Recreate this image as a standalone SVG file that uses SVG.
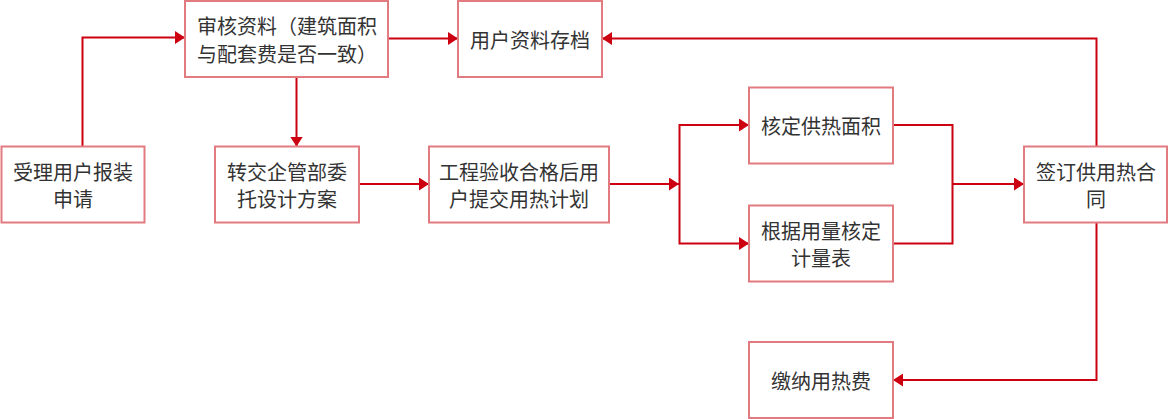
<svg xmlns="http://www.w3.org/2000/svg" width="1169" height="419" viewBox="0 0 1169 419">
<style>
.box{fill:#ffffff;stroke:#e27b80;stroke-width:2}
.t{font-family:"Noto Sans CJK SC","Noto Sans",sans-serif;font-size:20px;fill:#333333;text-anchor:middle;dominant-baseline:central}
.c{fill:none;stroke:#cc0010;stroke-width:2}
</style>
<defs>
<marker id="ah" viewBox="0 0 10 13" refX="10" refY="6.5" markerWidth="10" markerHeight="13" markerUnits="userSpaceOnUse" orient="auto">
<path d="M0,0 L10,6.5 L0,13 Z" fill="#cc0010"/>
</marker>
</defs>
<g id="connectors">
<path class="c" d="M82.5,146.5 V37.5 H185" marker-end="url(#ah)"/>
<path class="c" d="M296.5,77 V146.5" marker-end="url(#ah)"/>
<path class="c" d="M388,38.5 H458" marker-end="url(#ah)"/>
<path class="c" d="M359,184 H429" marker-end="url(#ah)"/>
<path class="c" d="M609,184 H679" marker-end="url(#ah)"/>
<path class="c" d="M679.5,184 V125 H749" marker-end="url(#ah)"/>
<path class="c" d="M679.5,184 V243.5 H749" marker-end="url(#ah)"/>
<path class="c" d="M893,125 H952.5 V243.5 H893"/>
<path class="c" d="M952.5,184 H1024" marker-end="url(#ah)"/>
<path class="c" d="M1096.5,146.5 V38.5 H602" marker-end="url(#ah)"/>
<path class="c" d="M1096.5,222.5 V380 H893" marker-end="url(#ah)"/>
</g>
<g id="n1"><rect class="box" x="1.5" y="146.5" width="143" height="76"/><text class="t" x="73" y="171">受理用户报装</text><text class="t" x="73" y="198.5">申请</text></g>
<g id="n2"><rect class="box" x="185" y="1" width="203" height="76"/><text class="t" x="287" y="25.5">审核资料（建筑面积</text><text class="t" x="287" y="53">与配套费是否一致）</text></g>
<g id="n3"><rect class="box" x="215" y="146.5" width="144" height="76"/><text class="t" x="287" y="171">转交企管部委</text><text class="t" x="287" y="198.5">托设计方案</text></g>
<g id="n4"><rect class="box" x="458" y="1" width="144" height="76"/><text class="t" x="530" y="39">用户资料存档</text></g>
<g id="n5"><rect class="box" x="429" y="146.5" width="180" height="76"/><text class="t" x="519" y="171">工程验收合格后用</text><text class="t" x="519" y="198.5">户提交用热计划</text></g>
<g id="n6"><rect class="box" x="749" y="87.5" width="144" height="76"/><text class="t" x="821" y="125.5">核定供热面积</text></g>
<g id="n7"><rect class="box" x="749" y="205.5" width="144" height="76"/><text class="t" x="821" y="230">根据用量核定</text><text class="t" x="821" y="257.5">计量表</text></g>
<g id="n8"><rect class="box" x="1024" y="146.5" width="143" height="76"/><text class="t" x="1096" y="171">签订供用热合</text><text class="t" x="1096" y="198.5">同</text></g>
<g id="n9"><rect class="box" x="749" y="342" width="144" height="76"/><text class="t" x="821" y="380">缴纳用热费</text></g>
</svg>
